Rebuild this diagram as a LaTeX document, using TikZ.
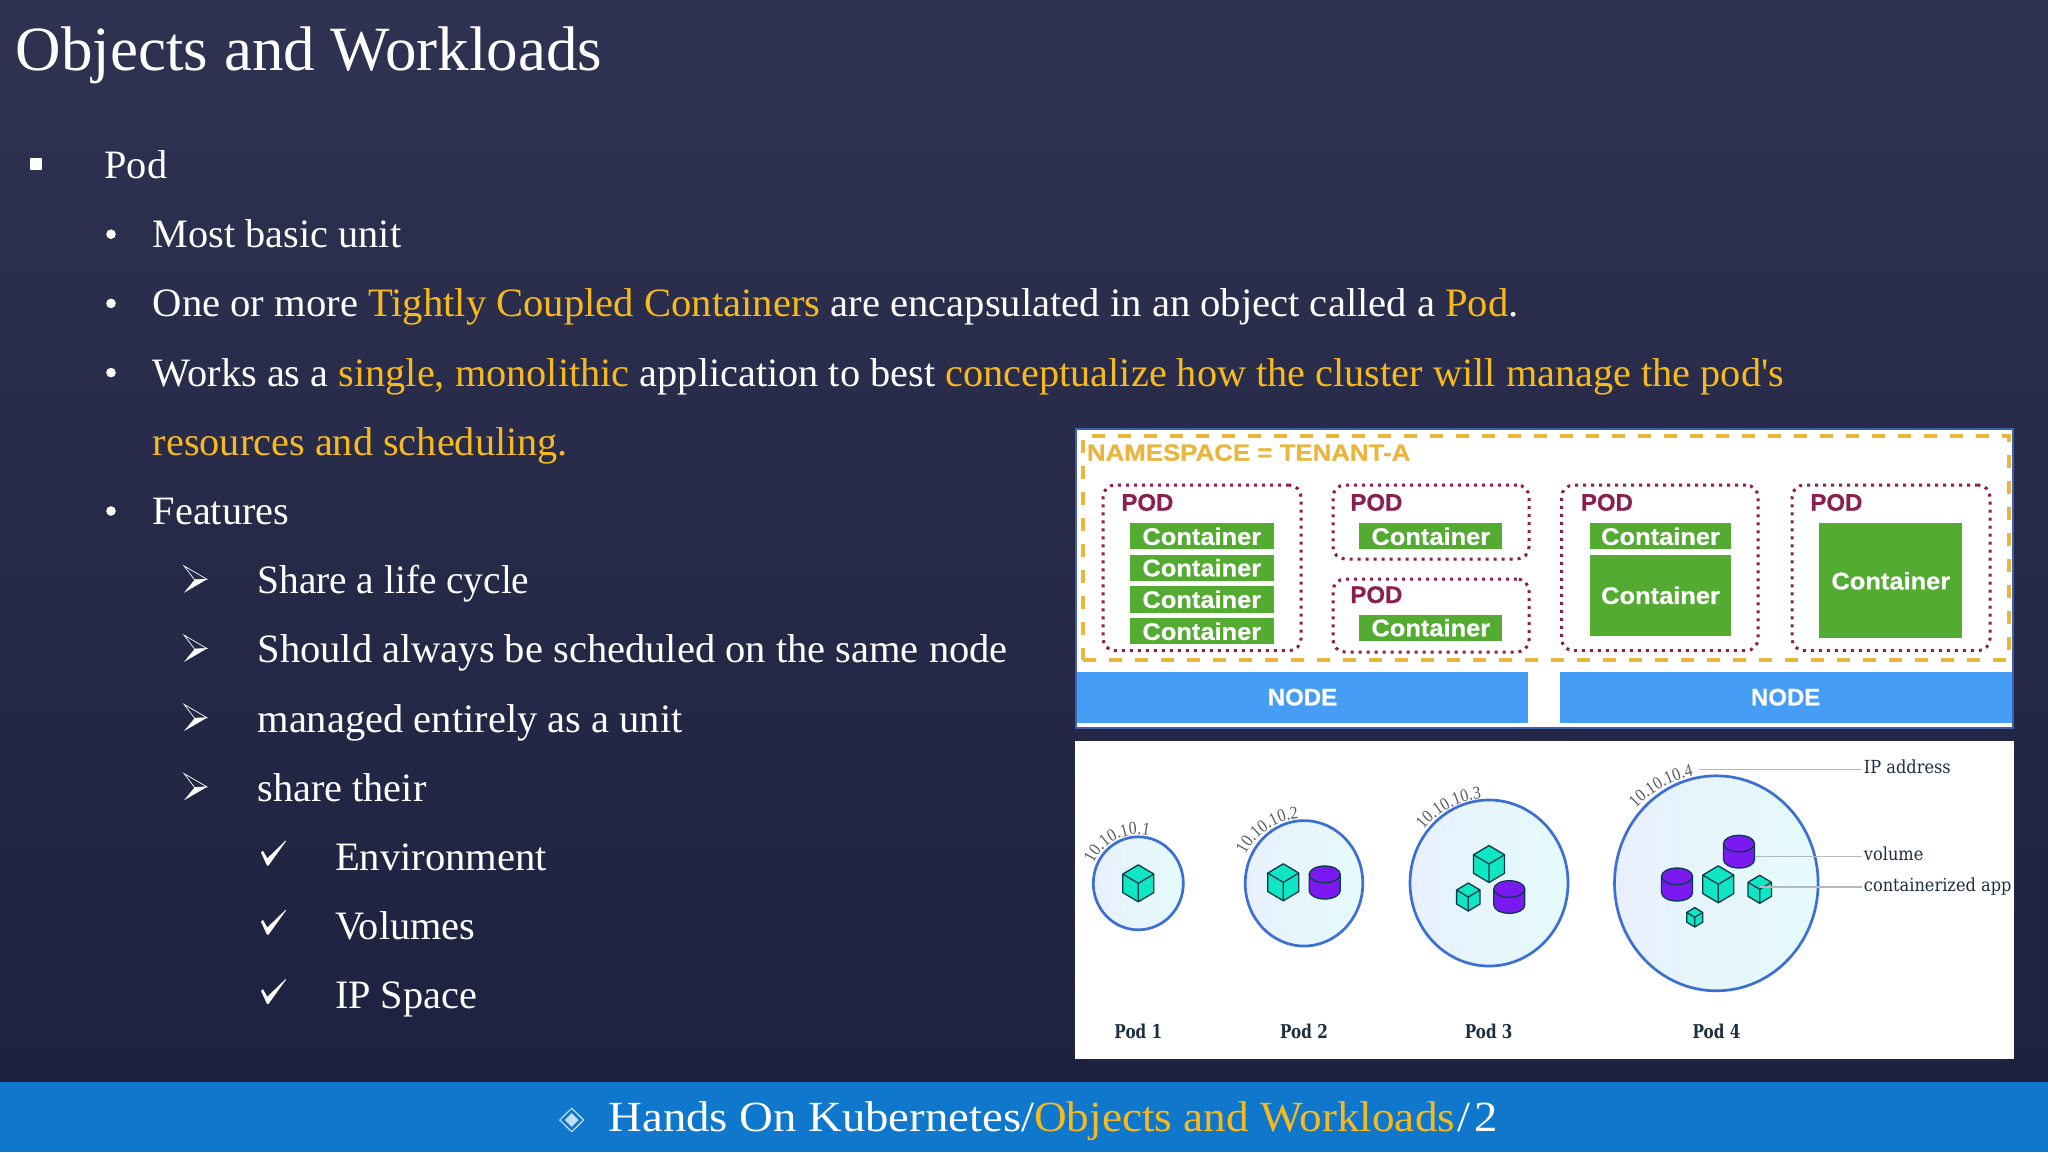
\documentclass[tikz,border=0pt]{standalone}
\usepackage{fontspec}
\usetikzlibrary{shapes.geometric,decorations.text}
\setmainfont{Liberation Serif}
\newfontfamily\uisans[FakeBold=0.5]{Liberation Sans}
\newfontfamily\uiwide[FakeStretch=1.1,FakeBold=0.5]{Liberation Sans}
\newfontfamily\uicont[FakeStretch=1.06,FakeBold=0.5]{Liberation Sans}
\newfontfamily\slab[FakeStretch=0.9]{DejaVu Serif}
\newfontfamily\slabb[FakeStretch=0.8]{DejaVu Serif}
\newfontfamily\iptext[FakeStretch=0.88]{Liberation Serif}
\newfontfamily\footA[FakeStretch=1.087]{Liberation Serif}
\newfontfamily\footB[FakeStretch=1.052]{Liberation Serif}
\newfontfamily\rawserif{Liberation Serif}
\newfontfamily\bodyW[FakeStretch=1.008]{Liberation Serif}
\newfontfamily\bodyM[FakeStretch=1.005]{Liberation Serif}
\newfontfamily\bodyN[FakeStretch=0.976]{Liberation Serif}
\newcommand{\pxfont}[1]{\fontsize{\fpeval{#1/2}pt}{\fpeval{#1*0.6}pt}\selectfont}
\definecolor{bgtop}{HTML}{2F3250}
\definecolor{bgmid}{HTML}{232745}
\definecolor{bgbot}{HTML}{1D2240}
\definecolor{gold}{HTML}{F6B91E}
\definecolor{footblue}{HTML}{0F78CC}
\definecolor{nsgold}{HTML}{E9B53C}
\definecolor{podred}{HTML}{8A2050}
\definecolor{contgreen}{HTML}{54AB31}
\definecolor{nodeblue}{HTML}{469DF5}
\definecolor{panelline}{HTML}{3F5FA8}
\definecolor{ringblue}{HTML}{3B6FD4}
\definecolor{teal}{HTML}{0FE6C4}
\definecolor{purp}{HTML}{7A1AF0}
\definecolor{edge}{HTML}{0A3B4A}
\definecolor{leader}{HTML}{B5B8BD}
\definecolor{inktext}{HTML}{1D2F3F}
\definecolor{ipgray}{HTML}{555B60}
\definecolor{ringL}{HTML}{E8F0FD}
\definecolor{ringR}{HTML}{E5FBFB}
\tikzset{
 txt/.style={anchor=base west,inner sep=0pt,outer sep=0pt,text=white,font=\pxfont{40.3}},
 ttl/.style={txt,font=\pxfont{63}},
 foot/.style={txt,font=\footA\pxfont{43}},
 panel/.style={fill=white,draw=panelline,line width=0.9pt},
 whitepanel/.style={fill=white},
 nsbox/.style={draw=nsgold,line width=2pt,dash pattern=on 6.5pt off 6.5pt},
 podbox/.style={draw=podred,line width=1.5pt,rounded corners=6pt,dash pattern=on 1.5pt off 2.5pt},
 contbox/.style={fill=contgreen,text=white,font=\uicont\bfseries\pxfont{24}},
 nodebar/.style={fill=nodeblue,text=white,font=\uisans\bfseries\pxfont{24}},
 podlbl/.style={anchor=base west,inner sep=0pt,text=podred,font=\uisans\bfseries\pxfont{24}},
 nslbl/.style={anchor=base west,inner sep=0pt,text=nsgold,font=\uiwide\bfseries\pxfont{23.5}},
 ring/.style={ellipse,draw=ringblue,line width=1.35pt,left color=ringL,right color=ringR,inner sep=0pt},
 poddark/.style={anchor=base,inner sep=0pt,text=inktext,font=\slabb\bfseries\pxfont{19}},
 keylbl/.style={anchor=base west,inner sep=0pt,text=inktext,font=\slab\pxfont{18}},
 leaderline/.style={draw=leader,line width=0.6pt,shorten >=1pt},
 solid3d/.style={draw=edge,line width=0.65pt,line join=round},
}
\newcommand{\pxbox}[7]{%
 \node[#2,inner sep=0pt,minimum width=\fpeval{(#5-#3)/2}pt,minimum height=\fpeval{(#6-#4)/2}pt] (#1) at ({(#3+#5)/2},{(#4+#6)/2}) {#7};}
\newcommand{\cubeat}[4]{%
 \filldraw[solid3d,fill=teal] ({#1},{#2-#4}) -- ({#1+#3},{#2-#4/2}) -- ({#1+#3},{#2+#4/2}) -- ({#1},{#2+#4}) -- ({#1-#3},{#2+#4/2}) -- ({#1-#3},{#2-#4/2}) -- cycle;
 \draw[solid3d] ({#1-#3},{#2-#4/2}) -- ({#1},{#2}) -- ({#1+#3},{#2-#4/2}) ({#1},{#2}) -- ({#1},{#2+#4});}
\newcommand{\cylat}[4]{% x, ytop, ybot, halfwidth ; ry=8.3
 \filldraw[solid3d,fill=purp] ({#1-#4},{#2+8.3}) -- ({#1-#4},{#3-8.3}) .. controls ({#1-#4},{#3-3.7}) and ({#1-.55*#4},{#3}) .. ({#1},{#3}) .. controls ({#1+.55*#4},{#3}) and ({#1+#4},{#3-3.7}) .. ({#1+#4},{#3-8.3}) -- ({#1+#4},{#2+8.3}) -- cycle;
 \filldraw[solid3d,fill=purp] ({#1},{#2+8.3}) ellipse[x radius=#4,y radius=8.3];}
\newcommand{\ipat}[6]{% cx cy r a0 a1 text
 \path[decorate,decoration={text along path,text color=ipgray,text={|\iptext\pxfont{18}|#6}}] ({#1+#3*cos(#4)},{#2-#3*sin(#4)}) arc[start angle=#4,end angle=#5,radius=\fpeval{#3/2}pt];}
\newcommand{\arrowb}[1]{%
 \draw[white,line width=0.35pt,line join=miter] (184,{#1-13.4}) -- (207,{#1}) -- (194.6,{#1+.5}) -- cycle;
 \fill[white] (194.6,{#1+.5}) -- (207,{#1}) -- (184,{#1+13.4}) -- cycle;}
\newcommand{\tickb}[1]{%
 \fill[white] (261,{#1-17.5}) -- (263,{#1-19.2}) -- (267.3,{#1-11.7}) -- (285.7,{#1-29.5}) -- (286.1,{#1-29}) -- (268.5,{#1-4.5}) -- (267,{#1-4.5}) -- cycle;}
\begin{document}
\begin{tikzpicture}[x=0.5pt,y=-0.5pt]
\useasboundingbox (0,0) rectangle (2048,1152);
\shade[top color=bgtop,middle color=bgmid,bottom color=bgbot] (0,0) rectangle (2048,1082);
\fill[footblue] (0,1082) rectangle (2048,1152);
% title
\node[ttl] (title) at (16,70) {Objects and Workloads};
% bullets and body
\fill[white] (30,158) rectangle (42,170);
\node[txt] (t0) at (104.5,178.5) {Pod};
\foreach \b in {247.7,316.9,386.1,524.5} \fill[white] (111,\b-13.5) circle (4.8);
\node[txt] (t1) at (152.8,247.7) {Most basic unit};
\node[txt] (t2) at (152.8,316.9) {\bodyW\pxfont{40.3}One or more \textcolor{gold}{Tightly Coupled Containers} are encapsulated in an object called a \textcolor{gold}{Pod}.};
\node[txt] (t3) at (152.8,386.1) {Works as a \textcolor{gold}{single, monolithic} application to best \textcolor{gold}{conceptualize how the cluster will manage the pod{\rawserif\pxfont{40.3}'}s}};
\node[txt] (t4) at (152.8,455.3) {\textcolor{gold}{resources and scheduling.}};
\node[txt] (t5) at (152.8,524.5) {Features};
\foreach \b in {579.3,648.5,717.7,786.9} \arrowb{\b};
\node[txt] (t6) at (257.5,593.7) {\bodyN\pxfont{40.3}Share a life cycle};
\node[txt] (t7) at (257.5,662.9) {\bodyM\pxfont{40.3}Should always be scheduled on the same node};
\node[txt] (t8) at (257.5,732.1) {\bodyM\pxfont{40.3}managed entirely as a unit};
\node[txt] (t9) at (257.5,801.3) {share their};
\foreach \b in {870,939.2,1008.4} \tickb{\b};
\node[txt] (t10) at (335,870.5) {\bodyW\pxfont{40.3}Environment};
\node[txt] (t11) at (335,939.7) {Volumes};
\node[txt] (t12) at (335,1008.9) {IP Space};
% footer
\draw[white!85!footblue,line width=0.5pt] (571.7,1108.3) -- (583.7,1120) -- (571.7,1131.7) -- (559.7,1120) -- cycle;
\fill[white!75!footblue] (571.7,1113) -- (578.5,1120) -- (571.7,1127) -- (564.9,1120) -- cycle;
\node[foot] (foot) at (608.5,1131) {Hands On Kubernetes/\textcolor{gold}{\footB Objects and Workloads}\hspace{1pt}/\hspace{2pt}2};
% namespace panel
\pxbox{nspanel}{panel}{1076}{429}{2013}{728}{}
\pxbox{ns}{nsbox}{1083}{436}{2009}{660}{}
\node[nslbl] (nslabel) at (1086.5,460.7) {NAMESPACE = TENANT-A};
\pxbox{p1}{podbox}{1103}{485}{1301}{650.7}{}
\pxbox{p2}{podbox}{1333}{485}{1529}{559}{}
\pxbox{p3}{podbox}{1333}{579}{1529}{652}{}
\pxbox{p4}{podbox}{1561.6}{485}{1758}{650.7}{}
\pxbox{p5}{podbox}{1792}{485}{1990}{650.7}{}
\node[podlbl] (pl1) at (1121,510.7) {POD};
\node[podlbl] (pl2) at (1350,510.7) {POD};
\node[podlbl] (pl3) at (1350,603) {POD};
\node[podlbl] (pl4) at (1580.5,510.7) {POD};
\node[podlbl] (pl5) at (1810,510.7) {POD};
\pxbox{c1}{contbox}{1130}{523.3}{1273.6}{549.3}{Container}
\pxbox{c2}{contbox}{1130}{554.7}{1273.6}{580.7}{Container}
\pxbox{c3}{contbox}{1130}{585.7}{1273.6}{613}{Container}
\pxbox{c4}{contbox}{1130}{618.3}{1273.6}{644.3}{Container}
\pxbox{c5}{contbox}{1359.3}{523.3}{1502.3}{549.3}{Container}
\pxbox{c6}{contbox}{1359.3}{614.7}{1502.3}{640.7}{Container}
\pxbox{c7}{contbox}{1590}{523.3}{1731}{549.3}{Container}
\pxbox{c8}{contbox}{1590}{554.7}{1731}{636}{Container}
\pxbox{c9}{contbox}{1819.3}{523.3}{1962.3}{638.3}{Container}
\pxbox{n1}{nodebar}{1077}{671.7}{1528}{722.7}{NODE}
\pxbox{n2}{nodebar}{1559.7}{671.7}{2011.5}{722.7}{NODE}
% pods panel
\pxbox{podpanel}{whitepanel}{1075}{741}{2014}{1059.3}{}
\pxbox{r1}{ring}{1093.3}{836.8}{1183.3}{929.8}{}
\pxbox{r2}{ring}{1245.2}{820.6}{1362.8}{946}{}
\pxbox{r3}{ring}{1410}{800}{1568}{966}{}
\pxbox{r4}{ring}{1614.5}{775.8}{1818.1}{990.8}{}
\ipat{1138.3}{883.3}{49}{156}{60}{10.10.10.1}
\ipat{1304}{883.3}{65}{154}{60}{10.10.10.2}
\ipat{1489}{883.3}{85}{140.5}{60}{10.10.10.3}
\ipat{1716.3}{883.3}{110}{137}{70}{10.10.10.4}
\cubeat{1138.3}{883.3}{15.5}{18.5}
\cubeat{1283.3}{882.3}{15.5}{18.5}
\cylat{1324.7}{866}{899}{15.5}
\cubeat{1489}{864}{15.5}{18.5}
\cubeat{1468.3}{897}{11.7}{14}
\cylat{1509.3}{880.7}{913.3}{15.5}
\cylat{1739}{835.3}{868}{15.5}
\cylat{1677}{868}{901}{15.5}
\cubeat{1718.3}{884.3}{15.5}{18.5}
\cubeat{1759.7}{889.3}{11.7}{14}
\cubeat{1694.7}{917.3}{8}{9.7}
\node[poddark] (pn1) at (1138.3,1038.3) {Pod 1};
\node[poddark] (pn2) at (1304,1038.3) {Pod 2};
\node[poddark] (pn3) at (1488.7,1038.3) {Pod 3};
\node[poddark] (pn4) at (1716.5,1038.3) {Pod 4};
\node[keylbl] (kip) at (1863.5,773.3) {IP address};
\node[keylbl] (kvol) at (1863.5,860.7) {volume};
\node[keylbl] (kapp) at (1863.5,891) {containerized app};
\coordinate (aip) at (1699,769.3);
\coordinate (avol) at (1755,856.7);
\coordinate (aapp) at (1760,887);
\draw[leaderline] (aip) -- (aip -| kip.west);
\draw[leaderline] (avol) -- (avol -| kvol.west);
\draw[leaderline] (aapp) -- (aapp -| kapp.west);
\end{tikzpicture}
\end{document}
